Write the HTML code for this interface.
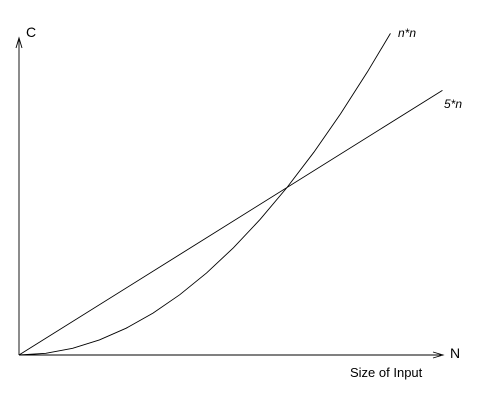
<!DOCTYPE html>
<html><head><meta charset="utf-8"><style>
body{margin:0;background:#fff}
svg{display:block}
text{font-family:"Liberation Sans",sans-serif;fill:#000}
</style></head><body>
<svg width="502" height="400" viewBox="0 0 502 400">
<g id="axes">
<line x1="19" y1="355" x2="19" y2="40" stroke="#000" stroke-width="0.9"/>
<path d="M16,48 L19,38 L22,48" fill="none" stroke="#000" stroke-width="0.9"/>
<line x1="19" y1="355" x2="441" y2="355" stroke="#000" stroke-width="0.9"/>
<path d="M433,352 L443,355 L433,358" fill="none" stroke="#000" stroke-width="0.9"/>
<text x="26" y="37" font-size="14">C</text>
<text x="450" y="358" font-size="14">N</text>
<text x="350" y="377" font-size="13">Size of Input</text>
</g>
<g id="series"></g>
<text x="398" y="37" font-size="12" font-style="italic" font-family="Liberation Serif">n*n</text>
<text x="444" y="108" font-size="12" font-style="italic" font-family="Liberation Serif">5*n</text>
</svg>
<script>
const quadN = [0,0.5,1,1.5,2,2.5,3,3.5,4,4.5,5,5.5,6,6.5,6.93];
const quadV = [0,0.25,1,2.25,4,6.25,9,12.25,16,20.25,25,30.25,36,42.25,48];
const linN = [0,7.9];
const linV = [0,39.5];
const ox=19, oy=355, sx=53.6, sy=6.7;
const X=n=>ox+n*sx, Y=v=>oy-v*sy;
const g=document.getElementById('series');
const ns='http://www.w3.org/2000/svg';
function poly(ns_,vs,name){
  const p=document.createElementNS(ns,'polyline');
  p.setAttribute('points',ns_.map((n,i)=>X(n)+','+Y(vs[i])).join(' '));
  p.setAttribute('fill','none');p.setAttribute('stroke','#000');p.setAttribute('stroke-width','0.9');
  
  
  g.appendChild(p);
}
poly(quadN,quadV,'series-n-squared');
poly(linN,linV,'series-5n');
</script>
</body></html>
